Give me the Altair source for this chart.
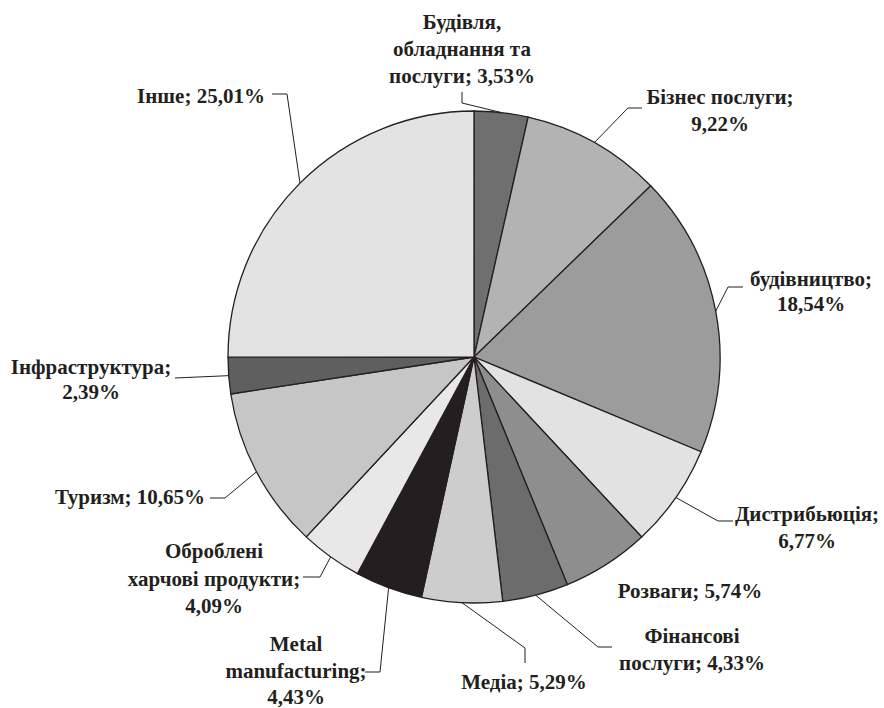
import math

import altair as alt
import pandas as pd

# Sector shares, clockwise from 12 o'clock
categories = [
    "Будівля, обладнання та послуги",
    "Бізнес послуги",
    "будівництво",
    "Дистрибьюція",
    "Розваги",
    "Фінансові послуги",
    "Медіа",
    "Metal manufacturing",
    "Оброблені харчові продукти",
    "Туризм",
    "Інфраструктура",
    "Інше",
]
shares = [3.53, 9.22, 18.54, 6.77, 5.74, 4.33, 5.29, 4.43, 4.09, 10.65, 2.39, 25.01]

# Grey tones for the sectors
fills = [
    "#6f6f6f", "#b3b3b3", "#9c9c9c", "#e2e2e2", "#8e8e8e", "#6c6c6c",
    "#cdcdcd", "#231f20", "#e8e8e8", "#c6c6c6", "#5f5f5f", "#e3e3e3",
]

# Words per line for each label ("name; value%")
line_words = [
    [1, 2, 2], [2, 1], [1, 1], [1, 1], [2], [1, 2],
    [2], [1, 1, 1], [1, 2, 1], [2], [1, 1], [2],
]

# Label placement: centre x and baseline-middle y of each line
label_x = [462, 720, 811, 807, 690, 692, 524, 296, 214, 130, 91, 201]
label_y = [
    [23, 50, 77], [98, 125], [280, 305], [515, 542], [592], [637, 664],
    [683], [645, 672, 698], [552, 580, 607], [498], [368, 393], [97],
]

# Leader line bend points (ending at the sector edge)
leader_pts = [
    [(462, 92), (462, 103)],
    [(642, 108), (628, 108)],
    [(743, 287), (728, 287)],
    [(733, 521), (718, 521)],
    None,
    [(612, 647), (598, 647)],
    [(525, 663), (525, 648)],
    [(365, 672), (380, 672)],
    [(303, 577), (320, 577)],
    [(210, 498), (225, 498)],
    [(175, 378)],
    [(272, 94), (287, 94)],
]

CX, CY, R = 474, 357, 246
INK = "#231f20"
FONT = "'Liberation Serif', 'Times New Roman', serif"

pie_df = pd.DataFrame({"category": categories, "share": shares, "idx": range(len(categories))})

# Label text lines
text_rows = []
for i, (cat, val) in enumerate(zip(categories, shares)):
    words = f"{cat}; {val:.2f}%".replace(".", ",").split(" ")
    pos = 0
    for j, n in enumerate(line_words[i]):
        text_rows.append({"x": label_x[i], "y": label_y[i][j], "t": " ".join(words[pos:pos + n])})
        pos += n
text_df = pd.DataFrame(text_rows)

# Leader lines: bend points followed by the sector's mid-angle point on the rim
total = sum(shares)
line_rows = []
cum = 0.0
for i, val in enumerate(shares):
    mid = (cum + val / 2) / total * 2 * math.pi
    cum += val
    if leader_pts[i] is None:
        continue
    pts = list(leader_pts[i]) + [(CX + R * math.sin(mid), CY - R * math.cos(mid))]
    for k, (px, py) in enumerate(pts):
        line_rows.append({"id": i, "k": k, "x": px, "y": py})
line_df = pd.DataFrame(line_rows)

pie = alt.Chart(pie_df).mark_arc(radius=R, stroke=INK, strokeWidth=1.3).encode(
    theta=alt.Theta("share:Q", stack=True),
    order=alt.Order("idx:Q"),
    color=alt.Color("category:N", scale=alt.Scale(domain=categories, range=fills), legend=None),
    x=alt.value(CX),
    y=alt.value(CY),
)

leaders = alt.Chart(line_df).mark_line(color=INK, strokeWidth=1).encode(
    x=alt.X("x:Q", scale=None, axis=None),
    y=alt.Y("y:Q", scale=None, axis=None),
    detail="id:N",
    order="k:Q",
)

labels = alt.Chart(text_df).mark_text(
    font=FONT, fontWeight="bold", fontSize=21, color=INK,
    align="center", baseline="middle",
).encode(
    x=alt.X("x:Q", scale=None, axis=None),
    y=alt.Y("y:Q", scale=None, axis=None),
    text="t:N",
)

chart = alt.layer(pie, leaders, labels).properties(
    width=884, height=708, padding=0, autosize="none", background="white"
).configure_view(stroke=None)

chart.save("out.html", embed_options={"renderer": "svg", "actions": False})
